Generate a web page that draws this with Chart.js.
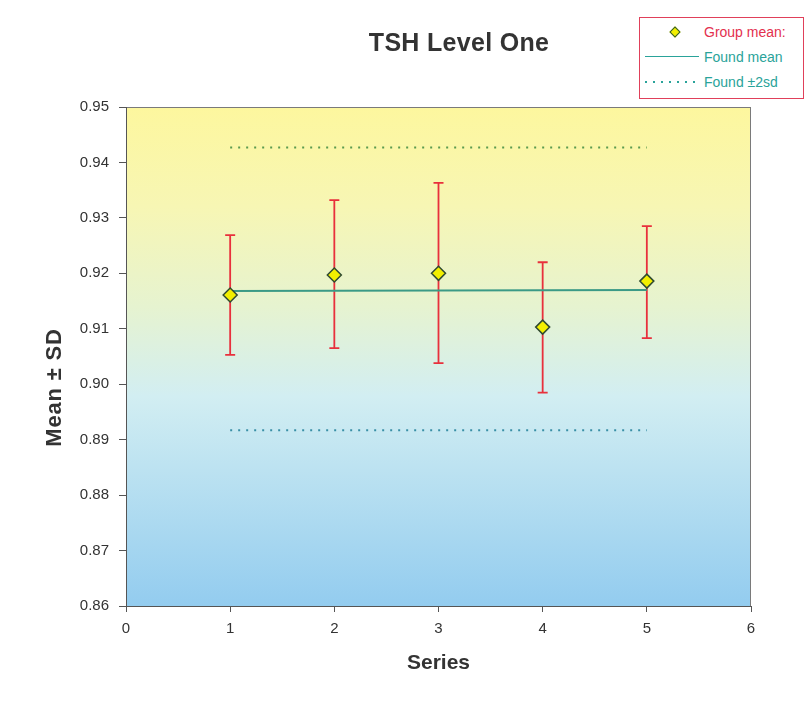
<!DOCTYPE html>
<html>
<head>
<meta charset="utf-8">
<script src="https://cdn.jsdelivr.net/npm/chart.js@4/dist/chart.umd.min.js"></script>
<style>
  html, body { margin: 0; padding: 0; background: #fff; }
  #wrap { position: relative; width: 809px; height: 704px; }
  #title {
    position: absolute; left: 320px; top: 28px; width: 278px; text-align: center;
    font: bold 25px "Liberation Sans", Arial, sans-serif; color: #333; letter-spacing: 0.3px;
  }
  #legend {
    position: absolute; left: 639px; top: 17px; width: 163px; height: 80px;
    border: 1.5px solid #e0405a; background: #fff;
    font: 14px "Liberation Sans", Arial, sans-serif;
  }
  .row { position: absolute; left: 0; height: 16px; width: 100%; }
  .row span { position: absolute; left: 64px; top: 0; line-height: 16px; white-space: nowrap; }
  .dia {
    position: absolute; left: 31px; top: 4px; width: 6px; height: 6px;
    background: #f2ef00; border: 1.5px solid #2f5a30; transform: rotate(45deg);
  }
  .solid { position: absolute; left: 5px; top: 7px; width: 54px; border-top: 1.5px solid #2aa39a; }
  .dots {
    position: absolute; left: 5px; top: 7px; width: 54px; height: 2px;
    background: repeating-linear-gradient(90deg, #2aa39a 0 2px, transparent 2px 8px);
  }
</style>
</head>
<body>
<div id="wrap">
  <canvas id="chart"></canvas>
  <div id="title">TSH Level One</div>
  <div id="legend">
    <div class="row" style="top:6px"><div class="dia"></div><span style="color:#e3304e">Group mean:</span></div>
    <div class="row" style="top:31px"><div class="solid"></div><span style="color:#2aa39a">Found mean</span></div>
    <div class="row" style="top:56px"><div class="dots"></div><span style="color:#2aa39a">Found ±2sd</span></div>
  </div>
</div>
<script>
document.addEventListener('DOMContentLoaded', () => {

  const series = [1, 2, 3, 4, 5];
  const groupMean = [0.9161, 0.9197, 0.9200, 0.9103, 0.9186];
  const errHigh = [0.9269, 0.9332, 0.9363, 0.9220, 0.9285];
  const errLow = [0.9053, 0.9065, 0.9038, 0.8985, 0.9083];
  const foundMean = [0.9168, 0.9170];
  const foundUpper = [0.9427, 0.9427];
  const foundLower = [0.8917, 0.8917];
  const lineX = [1, 5];
  const yTicks = [0.86, 0.87, 0.88, 0.89, 0.90, 0.91, 0.92, 0.93, 0.94, 0.95];

  const font = "'Liberation Sans', Arial, sans-serif";

  const pts = (xs, ys) => xs.map((x, i) => ({ x: x, y: ys[i] }));

  const plotBg = {
    id: 'plotBg',
    beforeDraw(chart) {
      const { ctx, chartArea: a } = chart;
      const g = ctx.createLinearGradient(0, a.top, 0, a.bottom);
      g.addColorStop(0, '#fdf79e');
      g.addColorStop(0.2, '#f7f6b4');
      g.addColorStop(0.4, '#e6f3d0');
      g.addColorStop(0.58, '#d2eef2');
      g.addColorStop(1, '#93ccef');
      ctx.save();
      ctx.fillStyle = g;
      ctx.fillRect(a.left, a.top, a.right - a.left, a.bottom - a.top);
      ctx.strokeStyle = '#7a7a7a';
      ctx.lineWidth = 1;
      ctx.strokeRect(a.left + 0.5, a.top + 0.5, a.right - a.left - 1, a.bottom - a.top);
      ctx.restore();
    }
  };

  // error bars (mean ± SD) for each series
  const errorBars = {
    id: 'errorBars',
    beforeDatasetsDraw(chart) {
      const { ctx, scales: { x, y } } = chart;
      ctx.save();
      ctx.strokeStyle = '#e8303c';
      ctx.lineWidth = 1.8;
      series.forEach((s, i) => {
        const px = x.getPixelForValue(s);
        const top = y.getPixelForValue(errHigh[i]);
        const bot = y.getPixelForValue(errLow[i]);
        ctx.beginPath();
        ctx.moveTo(px, top);
        ctx.lineTo(px, bot);
        ctx.moveTo(px - 5, top);
        ctx.lineTo(px + 5, top);
        ctx.moveTo(px - 5, bot);
        ctx.lineTo(px + 5, bot);
        ctx.stroke();
      });
      ctx.restore();
    }
  };

  // y axis title, sits a bit below the middle of the axis like the original
  const yTitle = {
    id: 'yTitle',
    afterDraw(chart) {
      const { ctx, chartArea: a } = chart;
      ctx.save();
      ctx.translate(a.left - 71, (a.top + a.bottom) / 2 + 31);
      ctx.rotate(-Math.PI / 2);
      ctx.font = 'bold 22px ' + font;
      if ('letterSpacing' in ctx) ctx.letterSpacing = '0.8px';
      ctx.fillStyle = '#333';
      ctx.textAlign = 'center';
      ctx.textBaseline = 'middle';
      ctx.fillText('Mean ± SD', 0, 0);
      ctx.restore();
    }
  };

  new Chart(document.getElementById('chart'), {
    type: 'scatter',
    data: {
      datasets: [
        {
          label: 'Group mean:',
          data: pts(series, groupMean),
          pointStyle: 'rectRot',
          pointRadius: 7,
          pointBackgroundColor: '#f2ef00',
          pointBorderColor: '#2f4a30',
          pointBorderWidth: 1.5,
          showLine: false
        },
        {
          label: 'Found mean',
          data: pts(lineX, foundMean),
          showLine: true,
          borderColor: '#3b9a86',
          borderWidth: 2,
          pointRadius: 0
        },
        {
          label: 'Found +2sd',
          data: pts(lineX, foundUpper),
          showLine: true,
          borderColor: '#5a9a4e',
          borderWidth: 2,
          borderDash: [2, 6],
          pointRadius: 0
        },
        {
          label: 'Found -2sd',
          data: pts(lineX, foundLower),
          showLine: true,
          borderColor: '#3a8fa6',
          borderWidth: 2,
          borderDash: [2, 6],
          pointRadius: 0
        }
      ]
    },
    options: {
      responsive: true,
      maintainAspectRatio: false,
      animation: false,
      layout: { padding: { top: 107, right: 58, bottom: 0, left: 0 } },
      plugins: {
        legend: { display: false },
        tooltip: { enabled: false }
      },
      scales: {
        x: {
          type: 'linear',
          min: 0,
          max: 6,
          afterFit: (s) => { s.height = 98; },
          ticks: { stepSize: 1, color: '#333', padding: 8, font: { family: font, size: 15 } },
          grid: { drawOnChartArea: false, tickLength: 6, color: '#555' },
          border: { color: '#555' },
          title: {
            display: true, text: 'Series', color: '#333',
            font: { family: font, size: 21, weight: 'bold' },
            padding: { top: 0, bottom: 28 }
          }
        },
        y: {
          type: 'linear',
          min: 0.86,
          max: 0.95,
          afterFit: (s) => { s.width = 126; },
          afterBuildTicks: (s) => { s.ticks = yTicks.map(v => ({ value: v })); },
          ticks: {
            color: '#333', padding: 10,
            font: { family: font, size: 15 },
            callback: (v) => Number(v).toFixed(2)
          },
          grid: { drawOnChartArea: false, tickLength: 7, color: '#555' },
          border: { color: '#555' }
        }
      }
    },
    plugins: [plotBg, errorBars, yTitle]
  });

});
</script>
</body>
</html>
